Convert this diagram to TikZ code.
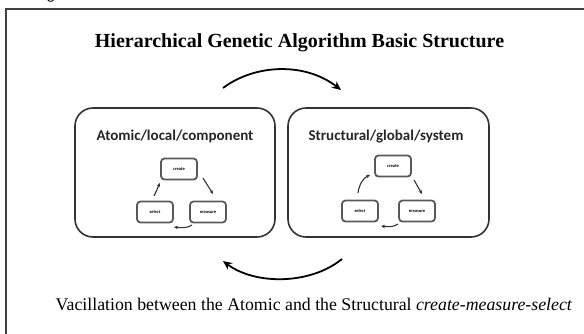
\documentclass[tikz,border=0pt]{standalone}
\usepackage{fontspec}
\setmainfont{Liberation Serif}
\newfontfamily\calib{Carlito}
\usetikzlibrary{arrows.meta}
\tikzset{
  bigbox/.style={draw=black!80, line width=1.6pt, rounded corners=18pt, minimum width=200pt, minimum height=129pt},
  smallbox/.style={draw=black!65, line width=1.8pt, rounded corners=3.5pt, minimum width=36pt, minimum height=21pt, inner sep=0pt, font=\calib\bfseries\fontsize{4.5}{5}\selectfont},
  bigarrow/.style={line width=1.8pt, -{Stealth[length=9pt,width=8pt]}},
  smallarrow/.style={line width=1.1pt, black!80, -{Stealth[length=4pt,width=3.5pt]}},
  lab/.style={font=\calib\bfseries\fontsize{15}{17}\selectfont, text=black!85},
}
\begin{document}
\begin{tikzpicture}[x=1pt,y=-1pt]
\useasboundingbox (0,0) rectangle (584,333);
\fill[white] (0,0) rectangle (584,333);
% partial caption glyph above the frame
\node[anchor=base, font=\calib\fontsize{16}{16}\selectfont, inner sep=0pt] (cap) at (51,-1) {g};
% outer frame (only top and left visible)
\draw[line width=1.6pt, black!75] (6,340) -- (6,9) -- (590,9);
% title
\node[font=\bfseries\fontsize{20}{22}\selectfont] (title) at (299.5,43) {Hierarchical Genetic Algorithm Basic Structure};
% boxes
\node[bigbox] (L) at (175,172.5) {};
\node[bigbox, minimum width=201pt] (R) at (388.5,172.5) {};
\node[lab] (Llab) at (175,136) {Atomic/local/component};
\node[lab] (Rlab) at (386,137) {Structural/global/system};
% left cycle
\node[smallbox] (lc) at (179,169) {create};
\node[smallbox] (ls) at (155,212) {select};
\node[smallbox] (lm) at (208,212) {measure};
\coordinate (l1) at (154,196); \coordinate (l2) at (160,183);
\coordinate (l3) at (203,178); \coordinate (l4) at (213,194);
\coordinate (l5) at (192,225); \coordinate (l6) at (174,227);
\draw[smallarrow] (l1) -- (l2);
\draw[smallarrow] (l3) -- (l4);
\draw[smallarrow] (l5) .. controls (188,228) and (182,228) .. (l6);
% right cycle
\node[smallbox] (rc) at (393,166) {create};
\node[smallbox] (rs) at (360,211) {select};
\node[smallbox] (rm) at (417,211) {measure};
\coordinate (r1) at (358,193); \coordinate (r2) at (370,175);
\coordinate (r3) at (414,180); \coordinate (r4) at (422,194);
\coordinate (r5) at (398,224); \coordinate (r6) at (381,226);
\draw[smallarrow] (r1) .. controls (359,185) and (363,178) .. (r2);
\draw[smallarrow] (r3) -- (r4);
\draw[smallarrow] (r5) .. controls (394,227) and (388,227) .. (r6);
% big arrows
\coordinate (t1) at (223,88); \coordinate (t2) at (341,90);
\draw[bigarrow] (t1) .. controls (255,64) and (305,62) .. (t2);
\coordinate (b1) at (342,259); \coordinate (b2) at (223,261);
\draw[bigarrow] (b1) .. controls (310,285) and (255,285) .. (b2);
% caption
\node[font=\fontsize{17.8}{20}\selectfont] (cap2) at (314,304) {Vacillation between the Atomic and the Structural \textit{create-measure-select}};
\end{tikzpicture}
\end{document}
